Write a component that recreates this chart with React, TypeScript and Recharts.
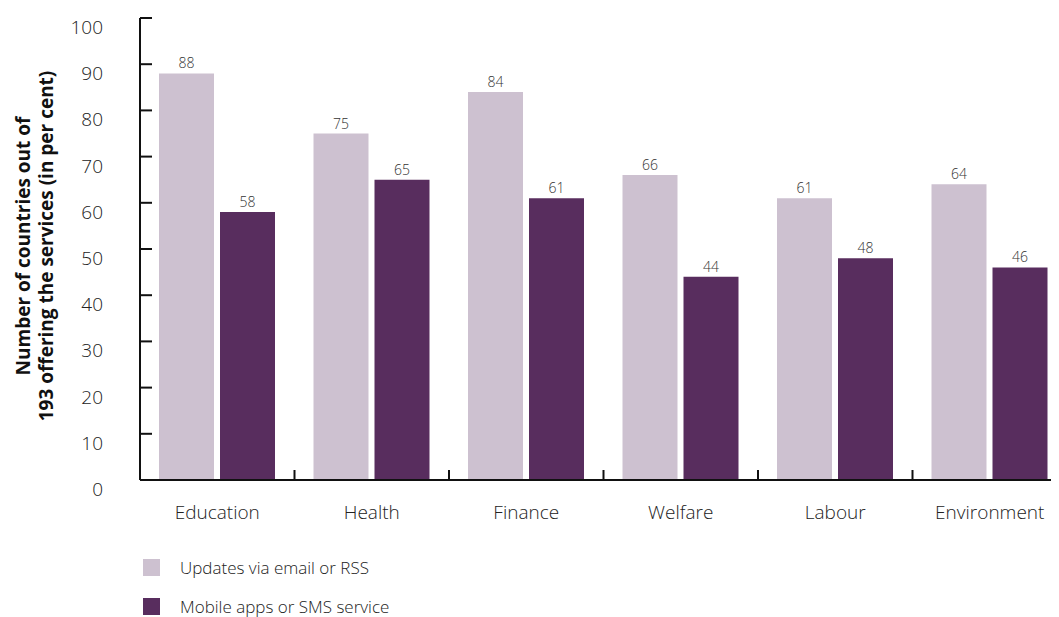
import React from 'react';
import { BarChart, Bar, XAxis, YAxis, LabelList, Legend } from 'recharts';

const categories = ['Education', 'Health', 'Finance', 'Welfare', 'Labour', 'Environment'];
const emailRss = [88, 75, 84, 66, 61, 64];
const mobileSms = [58, 65, 61, 44, 48, 46];
const yTicks = [0, 10, 20, 30, 40, 50, 60, 70, 80, 90, 100];
const seriesNames = ['Updates via email or RSS', 'Mobile apps or SMS service'];
const yLabelLines = ['Number of countries out of', '193 offering the services (in per cent)'];

const data = categories.map((c, i) => ({ name: c, email: emailRss[i], mobile: mobileSms[i] }));

const FONT = '"Open Sans", "Noto Sans", sans-serif';
const CHART_W = 1059;
const CHART_H = 609;
const Y_AXIS_W = 132;
const X_AXIS_H = 40;
const MARGIN = { top: 10, right: 0, bottom: 97, left: 0 };
const PLOT_W = CHART_W - Y_AXIS_W - MARGIN.left - MARGIN.right;
const PLOT_BOTTOM = CHART_H - MARGIN.bottom - X_AXIS_H;
const BAND = PLOT_W / categories.length;
const LIGHT = '#cdc1d0';
const DARK = '#582d5e';

const YTick = (props: any) => {
  const { y, payload } = props;
  const ax = MARGIN.left + Y_AXIS_W;
  return (
    <g>
      <line x1={ax} x2={ax + 12} y1={y} y2={y} stroke="#111" strokeWidth={2} />
      <text x={ax - 37} y={y + 9} textAnchor="end" dominantBaseline="central" fontSize={19} fontWeight={300} fill="#222" fontFamily={FONT}>
        {payload.value}
      </text>
    </g>
  );
};

const XTick = (props: any) => {
  const { x, y, payload, index } = props;
  const bx = x + BAND / 2;
  return (
    <g>
      {index < categories.length - 1 && (
        <line x1={bx} x2={bx} y1={PLOT_BOTTOM} y2={PLOT_BOTTOM - 10} stroke="#111" strokeWidth={2} />
      )}
      <text x={x} y={y} dy={24} textAnchor="middle" dominantBaseline="central" fontSize={19} fontWeight={300} fill="#222" fontFamily={FONT}>
        {payload.value}
      </text>
    </g>
  );
};

const YLabel = () => {
  const cy = 238;
  const xs = [15, 38];
  return (
    <g>
      {yLabelLines.map((l, i) => (
        <text key={i} x={xs[i]} y={cy} transform={`rotate(-90 ${xs[i]} ${cy})`} textAnchor="middle" dominantBaseline="central" fontSize={19} fontWeight="bold" fill="#111" fontFamily={FONT}>
          {l}
        </text>
      ))}
    </g>
  );
};

const LegendContent = (props: any) => {
  const payload = [...(props.payload || [])].sort(
    (a: any, b: any) => seriesNames.indexOf(a.value) - seriesNames.indexOf(b.value)
  );
  return (
    <div style={{ fontFamily: FONT }}>
      {payload.map((p: any, i: number) => (
        <div key={i} style={{ display: 'flex', alignItems: 'center', height: 17, marginBottom: 22 }}>
          <span style={{ display: 'inline-block', width: 17, height: 17, background: p.color, marginRight: 20 }} />
          <span style={{ fontSize: 17, fontWeight: 300, color: '#222', whiteSpace: 'nowrap' }}>{p.value}</span>
        </div>
      ))}
    </div>
  );
};

export default function App() {
  return (
    <div style={{ width: 1051, height: CHART_H, overflow: 'hidden' }}>
      <BarChart width={CHART_W} height={CHART_H} data={data} margin={MARGIN} barGap={6} barCategoryGap={19}>
        <XAxis
          dataKey="name"
          height={X_AXIS_H}
          tickLine={false}
          axisLine={{ stroke: '#111', strokeWidth: 2 }}
          tick={<XTick />}
          interval={0}
        />
        <YAxis
          width={Y_AXIS_W}
          domain={[0, 100]}
          ticks={yTicks}
          tickLine={false}
          axisLine={{ stroke: '#111', strokeWidth: 2 }}
          tick={<YTick />}
          interval={0}
          label={<YLabel />}
        />
        <Legend
          layout="horizontal"
          verticalAlign="middle"
          align="center"
          wrapperStyle={{ left: 135, top: 551, width: 'auto' }}
          content={<LegendContent />}
        />
        <Bar dataKey="email" name={seriesNames[0]} fill={LIGHT} isAnimationActive={false}>
          <LabelList dataKey="email" position="top" offset={5} fontSize={14} fontWeight={300} fill="#333" fontFamily={FONT} />
        </Bar>
        <Bar dataKey="mobile" name={seriesNames[1]} fill={DARK} isAnimationActive={false}>
          <LabelList dataKey="mobile" position="top" offset={5} fontSize={14} fontWeight={300} fill="#333" fontFamily={FONT} />
        </Bar>
      </BarChart>
    </div>
  );
}
